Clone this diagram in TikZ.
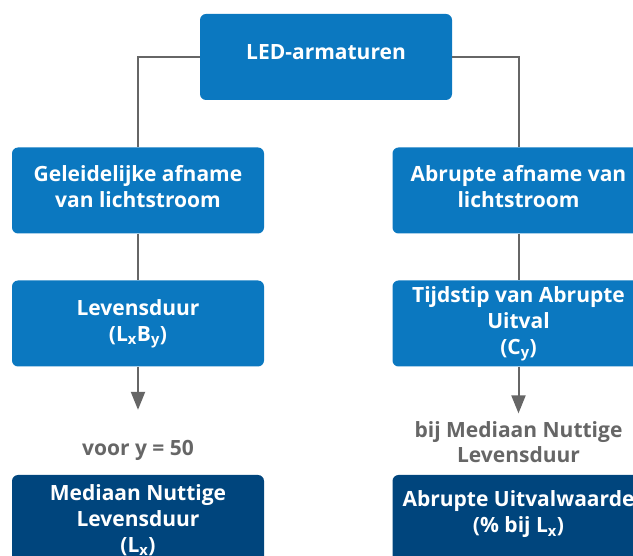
\documentclass[tikz,border=0pt]{standalone}
\usepackage{fontspec}
\setmainfont{Open Sans}
\usetikzlibrary{arrows,arrows.meta,positioning}

\definecolor{ledblue}{HTML}{0B78C0}
\definecolor{leddark}{HTML}{00457D}
\definecolor{ledgrey}{HTML}{666666}

\tikzset{
  litbox/.style={rectangle, rounded corners=6pt, fill=ledblue, text=white,
    minimum width=252pt, minimum height=86pt, align=center, font=\bfseries\fontsize{21}{26}\selectfont},
  darkbox/.style={litbox, fill=leddark, minimum height=90pt},
  lift/.style={text depth=9pt},
  note/.style={text=ledgrey, align=center, font=\bfseries\fontsize{21}{25}\selectfont},
  conn/.style={draw=ledgrey, line width=2pt},
  arr/.style={conn, -{Triangle[length=18pt,width=14pt]}}
}

\begin{document}
\begin{tikzpicture}[%
    x=1pt, y=1pt,
    on grid
  ]
  \useasboundingbox (0,0) rectangle (633,-556);
  \clip (0,0) rectangle (633,-556);

  \node[litbox, lift] (led) at (326,-57) {LED-armaturen};
  \node[litbox, lift] (gradual) [below left=133.5pt and 188pt of led] {Geleidelijke afname\\van lichtstroom};
  \node[litbox, lift] (abrupt) [below right=133.5pt and 192.5pt of led] {Abrupte afname van\\lichtstroom};
  \node[litbox] (life) [below=133pt of gradual] {Levensduur\\(L\textsubscript{x}B\textsubscript{y})};
  \node[litbox] (time) [below=133pt of abrupt] {Tijdstip van Abrupte\\Uitval\\(C\textsubscript{y})};

  \node[note] (voor) [below=127pt of life] {voor y = 50};
  \node[note] (bij) [below=119pt of time] {bij Mediaan Nuttige\\Levensduur};

  \node[darkbox] (median) [below=196.5pt of life] {Mediaan Nuttige\\Levensduur\\(L\textsubscript{x})};
  \node[darkbox] (rate) [below=196.5pt of time] {Abrupte Uitvalwaarde\\(\% bij L\textsubscript{x})\\[-10pt]\mbox{}};

  \path[conn] (led.west) -| (gradual.north);
  \path[conn] (led.east) -| (abrupt.north);
  \path[conn] (gradual) -- (life);
  \path[conn] (abrupt) -- (time);
  \path[arr, shorten >=27pt] (life) -- (voor);
  \path[arr, shorten >=5pt] (time) -- (bij);

  \end{tikzpicture}
\end{document}
